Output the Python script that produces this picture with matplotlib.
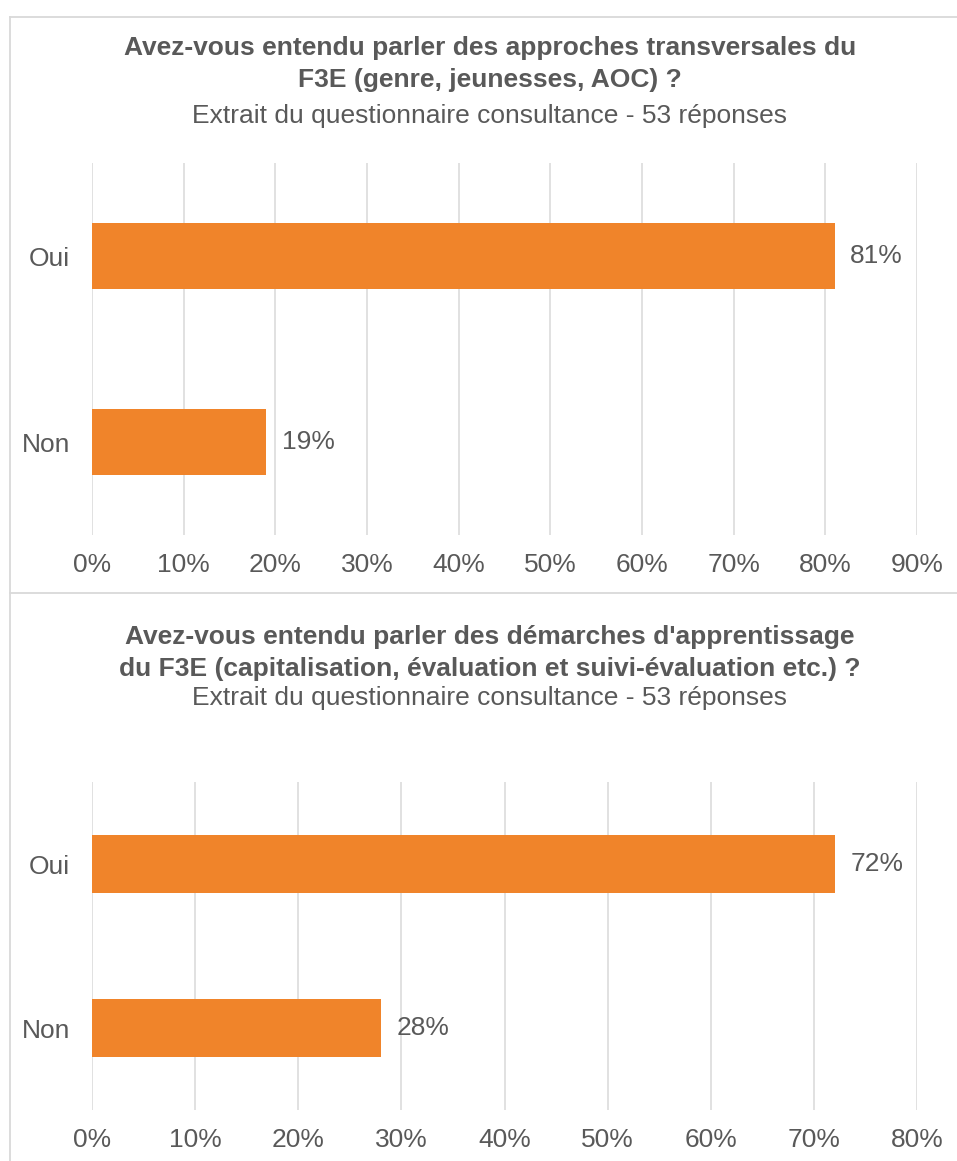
import matplotlib.pyplot as plt
from matplotlib.lines import Line2D

plt.rcParams['font.family'] = ['Liberation Sans', 'DejaVu Sans']

# data
categories = ['Non', 'Oui']
values_top = [19, 81]
values_bottom = [28, 72]
title_top = "Avez-vous entendu parler des approches transversales du\nF3E (genre, jeunesses, AOC) ?"
title_bottom = "Avez-vous entendu parler des démarches d'apprentissage\ndu F3E (capitalisation, évaluation et suivi-évaluation etc.) ?"
subtitle = "Extrait du questionnaire consultance - 53 réponses"

orange = '#F0842A'
grey_text = '#595959'
grid_col = '#D9D9D9'
fs = 19

W, H = 957, 1161
fig = plt.figure(figsize=(W / 100, H / 100), dpi=100)


def fy(py):
    return 1 - py / H


def draw(rect, vals, xmax):
    ax = fig.add_axes(rect)
    ax.barh(categories, vals, height=0.35, color=orange, zorder=3)
    ax.set_xlim(0, xmax)
    ax.set_ylim(-0.5, 1.5)
    ax.set_xticks(range(0, xmax + 1, 10))
    ax.set_xticklabels([f'{t}%' for t in range(0, xmax + 1, 10)])
    ax.xaxis.grid(True, color=grid_col, linewidth=1.1, zorder=0)
    ax.set_axisbelow(True)
    for s in ax.spines.values():
        s.set_visible(False)
    ax.tick_params(axis='both', length=0, labelsize=fs, colors=grey_text)
    ax.tick_params(axis='x', pad=13)
    ax.tick_params(axis='y', pad=16)
    for i, v in enumerate(vals):
        ax.text(v + xmax * 0.019, i, f'{v}%', va='center', ha='left',
                fontsize=fs, color=grey_text)
    return ax


draw([92 / W, fy(535), 825 / W, 372 / H], values_top, 90)
draw([92 / W, fy(1110), 825 / W, 328 / H], values_bottom, 80)

# titles
fig.text(490 / W, fy(64), title_top, ha='center', va='center', fontsize=fs,
         fontweight='bold', color=grey_text, linespacing=1.4)
fig.text(490 / W, fy(116), subtitle, ha='center', va='center', fontsize=fs,
         color=grey_text)
fig.text(490 / W, fy(653), title_bottom, ha='center', va='center', fontsize=fs,
         fontweight='bold', color=grey_text, linespacing=1.4)
fig.text(490 / W, fy(698), subtitle, ha='center', va='center', fontsize=fs,
         color=grey_text)

# chart frames
frame = dict(color=grid_col, linewidth=1.3, transform=fig.transFigure)
fig.add_artist(Line2D([10 / W, 1], [fy(17), fy(17)], **frame))
fig.add_artist(Line2D([10 / W, 10 / W], [fy(17), 0], **frame))
fig.add_artist(Line2D([10 / W, 1], [fy(593), fy(593)], **frame))

fig.savefig('out.png', dpi=100, facecolor='white')
